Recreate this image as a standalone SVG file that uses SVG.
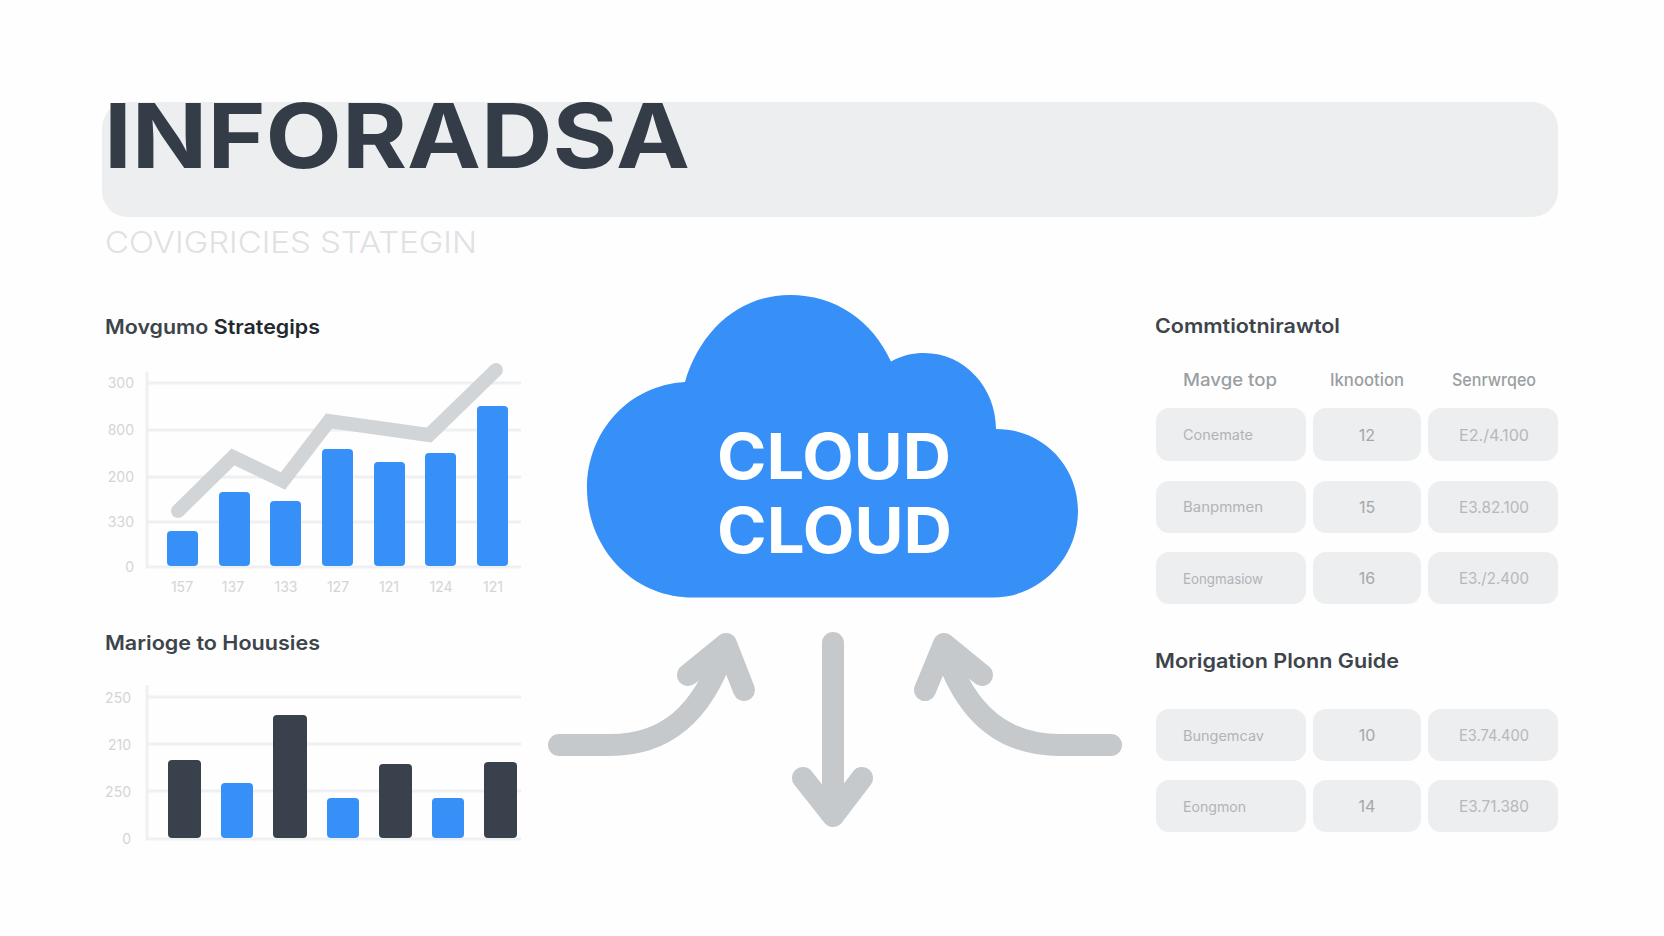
<svg xmlns="http://www.w3.org/2000/svg" width="1664" height="936" viewBox="0 0 1664 936">
<style>
text{font-family:"Inter","Liberation Sans",sans-serif}
.band{fill:#eceeef}
.title{font-size:89px;font-weight:700;fill:#343d47}
.sub{font-size:30px;font-weight:300;fill:#dfe1e4}
.h{font-size:20px;font-weight:600;fill:#3d444b}
.grid{stroke:#eff0f1;stroke-width:3;fill:none}
.tick{font-size:14px;fill:#d2d5d8}
.e{text-anchor:end}
.m{text-anchor:middle}
.blue{fill:#3690f7}
.dark{fill:#39424c}
.trend{fill:none;stroke:#d1d5d8;stroke-width:14;stroke-linecap:round;stroke-linejoin:miter}
.cell{fill:#eceeef}
.th{font-size:17px;font-weight:500;fill:#9a9ea2}
.c1{font-size:14px;fill:#b0b4b8}
.c2{font-size:16px;fill:#a3a7ab}
.c3{font-size:16px;fill:#b5b9bc}
.cloudtxt{font-size:63px;font-weight:700;fill:#fff}
.arrow{fill:none;stroke:#c5c9cc;stroke-width:22;stroke-linecap:round;stroke-linejoin:round}
</style>
<rect width="1664" height="936" fill="#fefefe"/>
<g id="header">
<rect class="band" x="102" y="102" width="1456" height="115" rx="26"/>
<text class="title" x="104" y="168" textLength="586" lengthAdjust="spacingAndGlyphs">INFORADSA</text>
<text class="sub" x="105" y="253" textLength="372" lengthAdjust="spacingAndGlyphs">COVIGRICIES STATEGIN</text>
</g>
<g id="chart-top">
<text class="h" x="105" y="334" textLength="215" lengthAdjust="spacingAndGlyphs">Movgumo <tspan fill="#22282f">Strategips</tspan></text>
<path class="grid" d="M147 372V567H521M147 383H521M147 430H521M147 477H521M147 522H521"/>
<g class="tick e">
<text x="134" y="388">300</text><text x="134" y="435">800</text><text x="134" y="482">200</text><text x="134" y="527">330</text><text x="134" y="572">0</text>
</g>
<g class="blue">
<rect x="167" y="531" width="31" height="35" rx="4"/><rect x="219" y="492" width="31" height="74" rx="4"/><rect x="270" y="501" width="31" height="65" rx="4"/><rect x="322" y="449" width="31" height="117" rx="4"/><rect x="374" y="462" width="31" height="104" rx="4"/><rect x="425" y="453" width="31" height="113" rx="4"/><rect x="477" y="406" width="31" height="160" rx="4"/>
</g>
<path class="trend" d="M178 511L233 457L283 481L329 421L429 435L496 370"/>
<g class="tick m">
<text x="182" y="592">157</text><text x="233" y="592">137</text><text x="286" y="592">133</text><text x="338" y="592">127</text><text x="389" y="592">121</text><text x="441" y="592">124</text><text x="493" y="592">121</text>
</g>
</g>
<g id="chart-bottom">
<text class="h" x="105" y="650" textLength="215" lengthAdjust="spacingAndGlyphs">Marioge to Houusies</text>
<path class="grid" d="M147 685V839H521M147 697H521M147 744H521M147 791H521"/>
<g class="tick e">
<text x="131" y="703">250</text><text x="131" y="750">210</text><text x="131" y="797">250</text><text x="131" y="844">0</text>
</g>
<rect class="dark" x="168" y="760" width="33" height="78" rx="4"/><rect class="blue" x="221" y="783" width="32" height="55" rx="4"/><rect class="dark" x="273" y="715" width="34" height="123" rx="4"/><rect class="blue" x="327" y="798" width="32" height="40" rx="4"/><rect class="dark" x="379" y="764" width="33" height="74" rx="4"/><rect class="blue" x="432" y="798" width="32" height="40" rx="4"/><rect class="dark" x="484" y="762" width="33" height="76" rx="4"/>
</g>
<g id="cloud">
<path class="blue" d="M693 597.5C630 597.5 587 545 587 489C587 430 630 385 685 382C700 330 740 295 790 295C835 295 872 320 891 361.5C903 355 913 353 924 353C965 353 996 388 996 429C1043 429 1078 466 1078 511C1078 558 1040 597.5 993 597.5Z"/>
<text class="cloudtxt" x="717" y="479" textLength="234" lengthAdjust="spacingAndGlyphs">CLOUD</text>
<text class="cloudtxt" x="717" y="553" textLength="235" lengthAdjust="spacingAndGlyphs">CLOUD</text>
</g>
<g id="connectors">
<path class="arrow" d="M559 745H610C665 745 702 715 724 650M688 675L726 644L744 690"/>
<path class="arrow" d="M833 643V814M803 778L833 816L862 778"/>
<path class="arrow" d="M1111 745H1060C1005 745 966 715 945 650M982 675L944 644L925 690"/>
</g>
<g id="table-top">
<text class="h" x="1155" y="333" textLength="185" lengthAdjust="spacingAndGlyphs">Commtiotnirawtol</text>
<text class="th" x="1183" y="386" textLength="94" lengthAdjust="spacingAndGlyphs">Mavge top</text>
<text class="th m" x="1367" y="386" textLength="74" lengthAdjust="spacingAndGlyphs">Iknootion</text>
<text class="th m" x="1494" y="386" textLength="84" lengthAdjust="spacingAndGlyphs">Senrwrqeo</text>
<g class="cell">
<rect x="1156" y="408" width="150" height="53" rx="13"/><rect x="1313" y="408" width="108" height="53" rx="13"/><rect x="1428" y="408" width="130" height="53" rx="13"/>
<rect x="1156" y="481" width="150" height="52" rx="13"/><rect x="1313" y="481" width="108" height="52" rx="13"/><rect x="1428" y="481" width="130" height="52" rx="13"/>
<rect x="1156" y="552" width="150" height="52" rx="13"/><rect x="1313" y="552" width="108" height="52" rx="13"/><rect x="1428" y="552" width="130" height="52" rx="13"/>
</g>
<text class="c1" x="1183" y="440" textLength="70" lengthAdjust="spacingAndGlyphs">Conemate</text>
<text class="c2 m" x="1367" y="441">12</text>
<text class="c3 m" x="1494" y="441" textLength="70" lengthAdjust="spacingAndGlyphs">E2./4.100</text>
<text class="c1" x="1183" y="512" textLength="80" lengthAdjust="spacingAndGlyphs">Banpmmen</text>
<text class="c2 m" x="1367" y="513">15</text>
<text class="c3 m" x="1494" y="513" textLength="70" lengthAdjust="spacingAndGlyphs">E3.82.100</text>
<text class="c1" x="1183" y="584" textLength="80" lengthAdjust="spacingAndGlyphs">Eongmasiow</text>
<text class="c2 m" x="1367" y="584">16</text>
<text class="c3 m" x="1494" y="584" textLength="70" lengthAdjust="spacingAndGlyphs">E3./2.400</text>
</g>
<g id="table-bottom">
<text class="h" x="1155" y="668" textLength="244" lengthAdjust="spacingAndGlyphs">Morigation Plonn Guide</text>
<g class="cell">
<rect x="1156" y="709" width="150" height="52" rx="13"/><rect x="1313" y="709" width="108" height="52" rx="13"/><rect x="1428" y="709" width="130" height="52" rx="13"/>
<rect x="1156" y="780" width="150" height="52" rx="13"/><rect x="1313" y="780" width="108" height="52" rx="13"/><rect x="1428" y="780" width="130" height="52" rx="13"/>
</g>
<text class="c1" x="1183" y="741" textLength="81" lengthAdjust="spacingAndGlyphs">Bungemcav</text>
<text class="c2 m" x="1367" y="741">10</text>
<text class="c3 m" x="1494" y="741" textLength="70" lengthAdjust="spacingAndGlyphs">E3.74.400</text>
<text class="c1" x="1183" y="812" textLength="63" lengthAdjust="spacingAndGlyphs">Eongmon</text>
<text class="c2 m" x="1367" y="812">14</text>
<text class="c3 m" x="1494" y="812" textLength="70" lengthAdjust="spacingAndGlyphs">E3.71.380</text>
</g>
</svg>
